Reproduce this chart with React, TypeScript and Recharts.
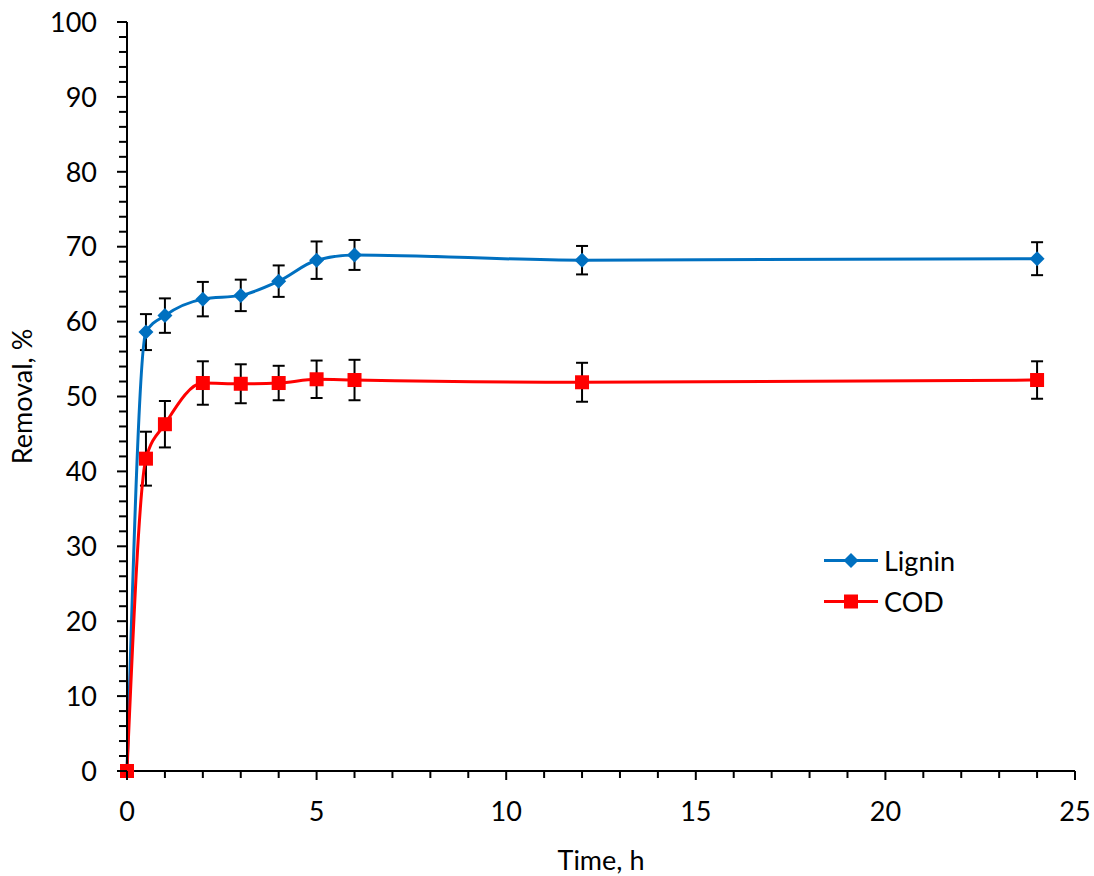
import { CartesianGrid, ErrorBar, Label, Legend, Line, LineChart, XAxis, YAxis } from 'recharts';

const times = [0, 0.5, 1, 2, 3, 4, 5, 6, 12, 24];
const lignin = [0, 58.6, 60.8, 63.0, 63.5, 65.4, 68.2, 68.9, 68.2, 68.4];
const ligninErr = [0, 2.4, 2.3, 2.3, 2.1, 2.1, 2.5, 2.0, 1.9, 2.2];
const cod = [0, 41.7, 46.3, 51.8, 51.7, 51.8, 52.3, 52.2, 51.9, 52.2];
const codErr = [0, 3.6, 3.1, 2.9, 2.6, 2.3, 2.5, 2.7, 2.6, 2.5];

const xTicks = [0, 1, 2, 3, 4, 5, 6, 7, 8, 9, 10, 11, 12, 13, 14, 15, 16, 17, 18, 19, 20, 21, 22, 23, 24, 25];
const yTicks = [
  0, 2, 4, 6, 8, 10, 12, 14, 16, 18, 20, 22, 24, 26, 28, 30, 32, 34, 36, 38, 40, 42, 44, 46, 48, 50,
  52, 54, 56, 58, 60, 62, 64, 66, 68, 70, 72, 74, 76, 78, 80, 82, 84, 86, 88, 90, 92, 94, 96, 98, 100
];

const data = times.map((t, i) => ({
  time: t,
  lignin: lignin[i],
  ligninErr: ligninErr[i],
  cod: cod[i],
  codErr: codErr[i]
}));

const FONT = 'Lato, "Open Sans", sans-serif';
const BLUE = '#0070C0';
const RED = '#FF0000';

const YTick = (props: any) => {
  const { x, y, payload } = props;
  const major = payload.value % 10 === 0;
  return (
    <g>
      <line x1={x - (major ? 10 : 8)} x2={x} y1={y} y2={y} stroke="#000" strokeWidth={2} />
      {major && (
        <text x={x - 30} y={y} dy="0.36em" textAnchor="end" fontFamily={FONT} fontSize={27} fill="#000">
          {payload.value}
        </text>
      )}
    </g>
  );
};

const XTick = (props: any) => {
  const { x, y, payload } = props;
  const major = payload.value % 5 === 0;
  return (
    <g>
      <line x1={x} x2={x} y1={y} y2={y + (major ? 9 : 7)} stroke="#000" strokeWidth={2} />
      {major && (
        <text x={x} y={y + 50} textAnchor="middle" fontFamily={FONT} fontSize={27} fill="#000">
          {payload.value}
        </text>
      )}
    </g>
  );
};

const Diamond = (props: any) => {
  const { cx, cy, index } = props;
  if (cx == null || cy == null) return <g key={`d-${index}`} />;
  const r = 7.5;
  return (
    <path
      key={`d-${index}`}
      d={`M${cx},${cy - r}L${cx + r},${cy}L${cx},${cy + r}L${cx - r},${cy}Z`}
      fill={BLUE}
    />
  );
};

const Square = (props: any) => {
  const { cx, cy, index } = props;
  if (cx == null || cy == null) return <g key={`s-${index}`} />;
  return <rect key={`s-${index}`} x={cx - 7} y={cy - 7} width={14} height={14} fill={RED} />;
};

const legendItems = [
  { name: 'Lignin', color: BLUE, marker: 'diamond' },
  { name: 'COD', color: RED, marker: 'square' }
];

const LegendContent = () => (
  <div style={{ fontFamily: FONT, fontSize: 27, color: '#000' }}>
    {legendItems.map((item) => (
      <div key={item.name} style={{ display: 'flex', alignItems: 'center', height: 41 }}>
        <svg width={62} height={41}>
          <line x1={4} x2={58} y1={20.5} y2={20.5} stroke={item.color} strokeWidth={3} />
          {item.marker === 'diamond' ? (
            <path d="M31,13L38.5,20.5L31,28L23.5,20.5Z" fill={item.color} />
          ) : (
            <rect x={24} y={13.5} width={14} height={14} fill={item.color} />
          )}
        </svg>
        <span style={{ marginLeft: 2 }}>{item.name}</span>
      </div>
    ))}
  </div>
);

export default function App() {
  return (
    <div style={{ position: 'absolute', left: 0, top: 0, width: 1094, height: 876, background: '#fff' }}>
      <LineChart width={1094} height={876} data={data} margin={{ top: 22, right: 19, left: 0, bottom: 0 }}>
        <CartesianGrid stroke="none" />
        <XAxis
          dataKey="time"
          type="number"
          domain={[0, 25]}
          ticks={xTicks}
          interval={0}
          height={105}
          tickSize={0}
          tickMargin={0}
          tickLine={false}
          axisLine={{ stroke: '#000', strokeWidth: 2 }}
          tick={<XTick />}
        >
          <Label
            value="Time, h"
            position="insideBottom"
            offset={6}
            style={{ fontFamily: FONT, fontSize: 27, fill: '#000' }}
          />
        </XAxis>
        <YAxis
          type="number"
          domain={[0, 100]}
          ticks={yTicks}
          interval={0}
          width={127}
          tickSize={0}
          tickMargin={0}
          tickLine={false}
          axisLine={{ stroke: '#000', strokeWidth: 2 }}
          tick={<YTick />}
        >
          <Label
            value="Removal, %"
            angle={-90}
            position="insideLeft"
            offset={22}
            style={{ fontFamily: FONT, fontSize: 27, fill: '#000', textAnchor: 'middle' }}
          />
        </YAxis>
        <Legend
          layout="vertical"
          align="center"
          verticalAlign="middle"
          content={<LegendContent />}
          wrapperStyle={{ left: 820, top: 540, width: 220 }}
        />
        <Line
          type="monotone"
          dataKey="lignin"
          name="Lignin"
          stroke={BLUE}
          strokeWidth={3}
          dot={Diamond}
          activeDot={false}
          isAnimationActive={false}
        >
          <ErrorBar dataKey="ligninErr" width={6} stroke="#000" strokeWidth={2} isAnimationActive={false} />
        </Line>
        <Line
          type="monotone"
          dataKey="cod"
          name="COD"
          stroke={RED}
          strokeWidth={3}
          dot={Square}
          activeDot={false}
          isAnimationActive={false}
        >
          <ErrorBar dataKey="codErr" width={6} stroke="#000" strokeWidth={2} isAnimationActive={false} />
        </Line>
      </LineChart>
    </div>
  );
}
